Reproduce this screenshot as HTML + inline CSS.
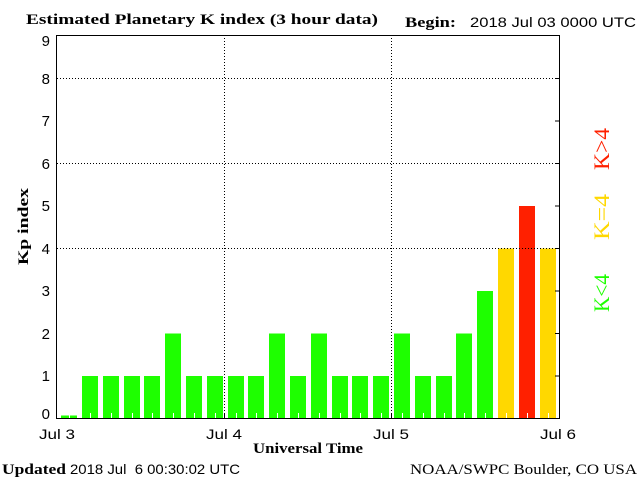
<!DOCTYPE html>
<html><head><meta charset="utf-8"><style>body{margin:0;background:#fff}svg{display:block}</style></head><body>
<svg width="640" height="480" xmlns="http://www.w3.org/2000/svg" font-family="Liberation Sans, sans-serif">
<rect width="640" height="480" fill="#fff"/>
<g fill="#1eff00">
<rect x="61" y="415.5" width="16" height="3"/>
<rect x="82" y="376" width="16" height="42.5"/>
<rect x="103" y="376" width="16" height="42.5"/>
<rect x="124" y="376" width="16" height="42.5"/>
<rect x="144" y="376" width="16" height="42.5"/>
<rect x="165" y="333.5" width="16" height="85"/>
<rect x="186" y="376" width="16" height="42.5"/>
<rect x="207" y="376" width="16" height="42.5"/>
<rect x="228" y="376" width="16" height="42.5"/>
<rect x="248" y="376" width="16" height="42.5"/>
<rect x="269" y="333.5" width="16" height="85"/>
<rect x="290" y="376" width="16" height="42.5"/>
<rect x="311" y="333.5" width="16" height="85"/>
<rect x="332" y="376" width="16" height="42.5"/>
<rect x="352" y="376" width="16" height="42.5"/>
<rect x="373" y="376" width="16" height="42.5"/>
<rect x="394" y="333.5" width="16" height="85"/>
<rect x="415" y="376" width="16" height="42.5"/>
<rect x="436" y="376" width="16" height="42.5"/>
<rect x="456" y="333.5" width="16" height="85"/>
<rect x="477" y="291" width="16" height="127.5"/>
</g>
<rect x="498" y="248.5" width="16" height="170" fill="#ffd800"/>
<rect x="519" y="206" width="16" height="212.5" fill="#ff2000"/>
<rect x="540" y="248.5" width="16" height="170" fill="#ffd800"/>
<g stroke="#fff" stroke-width="1">
<path d="M69.5 413v5M90.5 413v5M111.5 413v5M132.5 413v5M152.5 413v5M173.5 413v5M194.5 413v5M215.5 413v5M236.5 413v5M256.5 413v5M277.5 413v5M298.5 413v5M319.5 413v5M340.5 413v5M360.5 413v5M381.5 413v5M402.5 413v5M423.5 413v5M444.5 413v5M464.5 413v5M485.5 413v5M506.5 413v5M527.5 413v5M548.5 413v5"/>
</g>
<g stroke="#000" stroke-width="1" stroke-dasharray="1,2">
<path d="M57 78.5H560M57 163.5H560M57 248.5H560M224.5 35V418M391.5 35V418"/>
</g>
<g stroke="#000" stroke-width="1" fill="none">
<rect x="56.5" y="35.5" width="503" height="383"/>
<path d="M224.5 413v5M391.5 413v5M555 78.5h5M555 121h5M555 163.5h5M555 206h5M555 248.5h5M555 291h5M555 333.5h5M555 376h5"/>
</g>
<g font-size="15" fill="#000" text-anchor="end">
<text x="50" y="46">9</text><text x="50" y="84">8</text><text x="50" y="126">7</text><text x="50" y="169">6</text><text x="50" y="211">5</text><text x="50" y="254">4</text><text x="50" y="296">3</text><text x="50" y="339">2</text><text x="50" y="381">1</text><text x="50" y="419">0</text>
</g>
<g font-size="14" fill="#000">
<text x="39" y="439" textLength="36" lengthAdjust="spacingAndGlyphs">Jul 3</text><text x="206" y="439" textLength="36" lengthAdjust="spacingAndGlyphs">Jul 4</text><text x="373" y="439" textLength="36" lengthAdjust="spacingAndGlyphs">Jul 5</text><text x="540" y="439" textLength="36" lengthAdjust="spacingAndGlyphs">Jul 6</text>
</g>
<g font-family="Liberation Serif, serif" font-weight="bold" font-size="15" fill="#000">
<text x="26" y="24" textLength="352" lengthAdjust="spacingAndGlyphs">Estimated Planetary K index (3 hour data)</text>
<text x="405" y="27" textLength="51" lengthAdjust="spacingAndGlyphs">Begin:</text>
<text x="253" y="453" textLength="110" lengthAdjust="spacingAndGlyphs">Universal Time</text>
<text x="2" y="474" textLength="64" lengthAdjust="spacingAndGlyphs">Updated</text>
<text x="410" y="474" font-weight="normal" textLength="227" lengthAdjust="spacingAndGlyphs">NOAA/SWPC Boulder, CO USA</text>
<text transform="translate(28 265) rotate(-90)" textLength="77" lengthAdjust="spacingAndGlyphs">Kp index</text>
</g>
<text x="470" y="27" font-size="14" fill="#000" textLength="166" lengthAdjust="spacingAndGlyphs">2018 Jul 03 0000 UTC</text>
<text x="70" y="474" font-size="14" fill="#000" textLength="170" lengthAdjust="spacingAndGlyphs" xml:space="preserve">2018 Jul  6 00:30:02 UTC</text>
<g font-family="Liberation Serif, serif" font-size="22">
<text transform="translate(609 312) rotate(-90)" fill="#1eff00" textLength="38" lengthAdjust="spacingAndGlyphs">K&lt;4</text>
<text transform="translate(609 240) rotate(-90)" fill="#ffd800" textLength="46" lengthAdjust="spacingAndGlyphs">K=4</text>
<text transform="translate(609 170) rotate(-90)" fill="#ff2000" textLength="42" lengthAdjust="spacingAndGlyphs">K&gt;4</text>
</g>
</svg>
</body></html>
